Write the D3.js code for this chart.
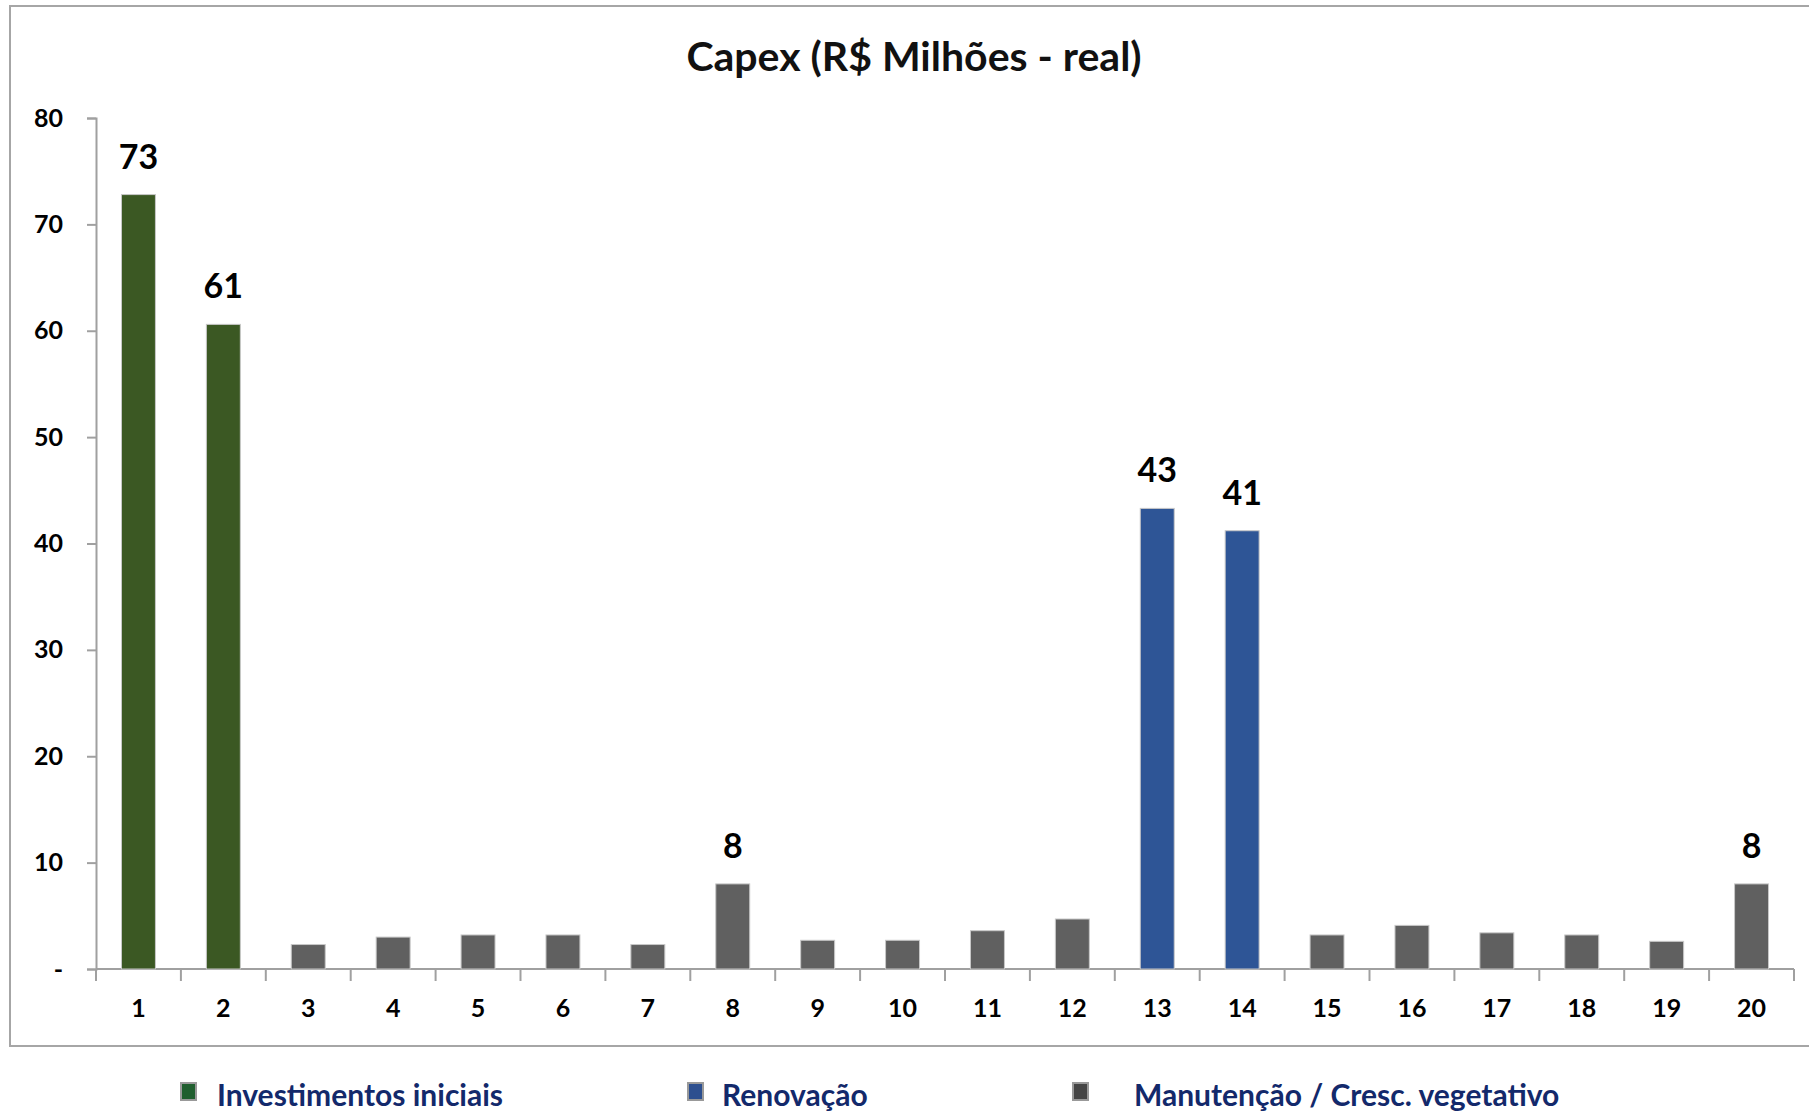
<!DOCTYPE html>
<html lang="pt-BR">
<head>
    <meta charset="UTF-8">
    <title>Capex</title>
    <script src="https://d3js.org/d3.v7.min.js"></script>
    <style>
        body { margin: 0; background: #fff; }
        text { font-family: Lato, "Open Sans", sans-serif; font-weight: bold; }
    </style>
</head>
<body>
    <div id="chart"></div>
    <script>
        // dados
        const anos = d3.range(1, 21).map(String);
        const valores = [72.8, 60.6, 2.3, 3.0, 3.2, 3.2, 2.3, 8.0, 2.7, 2.7,
                         3.6, 4.7, 43.3, 41.2, 3.2, 4.1, 3.4, 3.2, 2.6, 8.0];
        const grupos = ["ini", "ini", "man", "man", "man", "man", "man", "man", "man", "man",
                        "man", "man", "ren", "ren", "man", "man", "man", "man", "man", "man"];
        const rotulos = {1: "73", 2: "61", 8: "8", 13: "43", 14: "41", 20: "8"};
        const yTicks = [0, 10, 20, 30, 40, 50, 60, 70, 80];
        const legendaNomes = ["Investimentos iniciais", "Renovação", "Manutenção / Cresc. vegetativo"];

        const W = 1809, H = 1112;
        const mLeft = 96, mRight = 1794, mTop = 118, mBottom = 969;

        const svg = d3.select("#chart")
            .append("svg")
            .attr("width", W)
            .attr("height", H);

        // moldura
        svg.append("rect")
            .attr("x", 10).attr("y", 6)
            .attr("width", W + 20).attr("height", 1040)
            .attr("fill", "none")
            .attr("stroke", "#a6a6a6")
            .attr("stroke-width", 2);

        // título
        svg.append("text")
            .attr("x", 914).attr("y", 71)
            .attr("text-anchor", "middle")
            .style("font-size", "41px")
            .attr("fill", "#111")
            .text("Capex (R$ Milhões - real)");

        const x = d3.scaleBand()
            .domain(anos)
            .range([mLeft, mRight])
            .paddingInner(0.6)
            .paddingOuter(0.3);

        const xb = d3.scaleBand().domain(anos).range([mLeft, mRight]);

        const y = d3.scaleLinear()
            .domain([0, 80])
            .range([mBottom, mTop]);

        const cor = d3.scaleOrdinal()
            .domain(["ini", "ren", "man"])
            .range(["#3b5823", "#2e5596", "#606060"]);

        // eixo Y
        svg.append("g")
            .attr("transform", `translate(${mLeft},0)`)
            .call(d3.axisLeft(y).tickValues(yTicks).tickSize(9).tickPadding(24)
                .tickFormat(d => d === 0 ? "-" : d))
            .call(g => g.selectAll("line, path").attr("stroke", "#a0a0a0").attr("stroke-width", 2))
            .call(g => g.selectAll("text").style("font-size", "25px").attr("fill", "#000"));

        // eixo X com ticks nos limites das categorias
        svg.append("line")
            .attr("x1", mLeft).attr("x2", mRight)
            .attr("y1", mBottom).attr("y2", mBottom)
            .attr("stroke", "#a0a0a0").attr("stroke-width", 2);

        svg.append("g")
            .selectAll("line")
            .data(anos.concat(["fim"]))
            .join("line")
            .attr("x1", d => d === "fim" ? mRight : xb(d))
            .attr("x2", d => d === "fim" ? mRight : xb(d))
            .attr("y1", mBottom).attr("y2", mBottom + 12)
            .attr("stroke", "#a0a0a0").attr("stroke-width", 2);

        svg.append("g")
            .selectAll("text")
            .data(anos)
            .join("text")
            .attr("x", d => x(d) + x.bandwidth() / 2)
            .attr("y", 1017)
            .attr("text-anchor", "middle")
            .style("font-size", "25px")
            .attr("fill", "#000")
            .text(d => d);

        // barras
        svg.append("g")
            .selectAll("rect")
            .data(valores)
            .join("rect")
            .attr("x", (d, i) => x(anos[i]))
            .attr("y", d => y(d))
            .attr("width", x.bandwidth())
            .attr("height", d => y(0) - y(d))
            .attr("fill", (d, i) => cor(grupos[i]))
            .attr("stroke", "#c8c8c8")
            .attr("stroke-width", 1);

        // rótulos de dados
        svg.append("g")
            .selectAll("text")
            .data(valores.map((v, i) => ({v, i})).filter(d => rotulos[d.i + 1]))
            .join("text")
            .attr("x", d => x(anos[d.i]) + x.bandwidth() / 2)
            .attr("y", d => y(d.v) - 26)
            .attr("text-anchor", "middle")
            .style("font-size", "34px")
            .attr("fill", "#000")
            .text(d => rotulos[d.i + 1]);

        // legenda
        const legCores = ["#1f5e2e", "#2d4f8f", "#454545"];
        const legQuadX = [181, 688, 1073];
        const legTextoX = [217, 722, 1134];
        const leg = svg.append("g");
        legendaNomes.forEach((nome, i) => {
            leg.append("rect")
                .attr("x", legQuadX[i]).attr("y", 1083)
                .attr("width", 15).attr("height", 17)
                .attr("fill", legCores[i])
                .attr("stroke", "#999").attr("stroke-width", 2);
            leg.append("text")
                .attr("x", legTextoX[i]).attr("y", 1106)
                .style("font-size", "30px")
                .attr("fill", "#13296b")
                .text(nome);
        });
    </script>
</body>
</html>
